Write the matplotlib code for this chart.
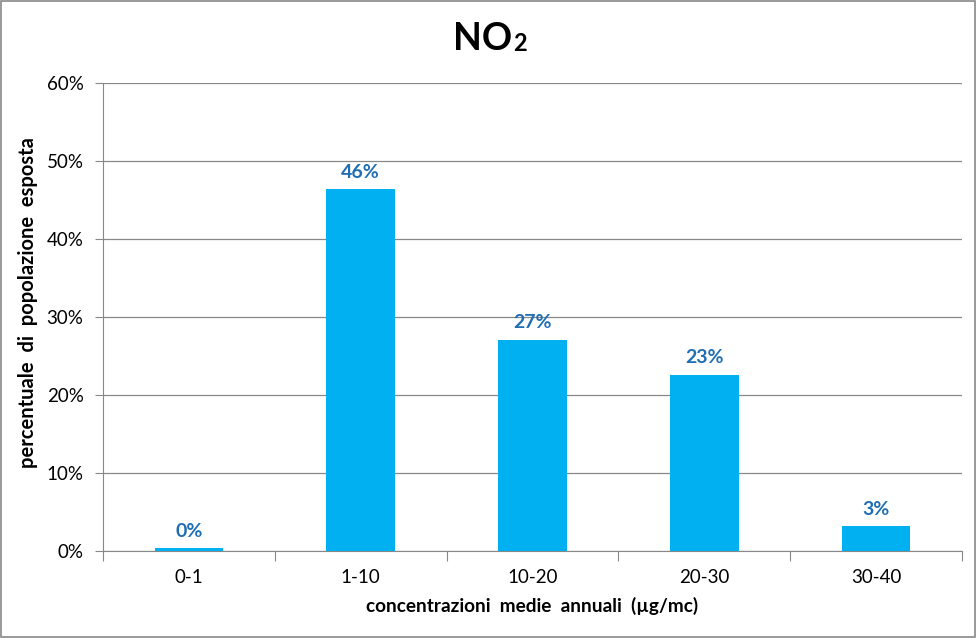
import matplotlib.pyplot as plt
from matplotlib.patches import Rectangle
from matplotlib.ticker import FuncFormatter

categories = ['0-1', '1-10', '10-20', '20-30', '30-40']
values = [0.4, 46.4, 27.1, 22.6, 3.2]
labels = ['0%', '46%', '27%', '23%', '3%']

plt.rcParams['font.family'] = ['Lato', 'DejaVu Sans']

fig = plt.figure(figsize=(9.76, 6.38), dpi=100)
ax = fig.add_axes([0.1055, 0.1364, 0.8802, 0.7335])

xpos = range(len(categories))
ax.bar(xpos, values, width=0.4, color='#00B0F0', zorder=3)

for i in xpos:
    ax.annotate(labels[i], xy=(i, values[i]), xytext=(0, 6), textcoords='offset points',
                ha='center', va='bottom', fontsize=14, fontweight='bold', color='#1F6EB5')

ax.set_xlim(-0.5, len(categories) - 0.5)
ax.set_ylim(0, 60)
ax.set_yticks(range(0, 61, 10))
ax.yaxis.set_major_formatter(FuncFormatter(lambda v, p: '%d%%' % v))
ax.set_xticks([i - 0.5 for i in range(len(categories) + 1)])
ax.set_xticklabels([])
ax.set_xticks(list(xpos), minor=True)
ax.set_xticklabels(categories, minor=True)

ax.tick_params(axis='x', which='major', length=7, color='#888888', direction='out')
ax.tick_params(axis='x', which='minor', length=0, labelsize=13.5, pad=13)
ax.tick_params(axis='y', length=6, color='#888888', labelsize=13.5, pad=8)

ax.grid(True, axis='y', color='#888888', linewidth=0.9, zorder=0)
for s in ['top', 'right']:
    ax.spines[s].set_visible(False)
for s in ['left', 'bottom']:
    ax.spines[s].set_color('#888888')

ax.set_xlabel('concentrazioni  medie  annuali  (µg/mc)', fontsize=13.7, fontweight='bold', labelpad=8)
ax.set_ylabel('percentuale  di  popolazione  esposta', fontsize=14.5, fontweight='bold')
ax.yaxis.set_label_coords(-0.076, 0.53)

fig.text(0.5246, 0.9216, 'NO', ha='right', va='baseline', fontsize=27, fontweight='bold')
fig.text(0.5256, 0.9200, '2', ha='left', va='baseline', fontsize=17, fontweight='bold')

fig.patches.append(Rectangle((0.001, 0.001), 0.998, 0.998, transform=fig.transFigure,
                             fill=False, edgecolor='#888888', linewidth=1.2))

fig.savefig('out.png', dpi=100)
